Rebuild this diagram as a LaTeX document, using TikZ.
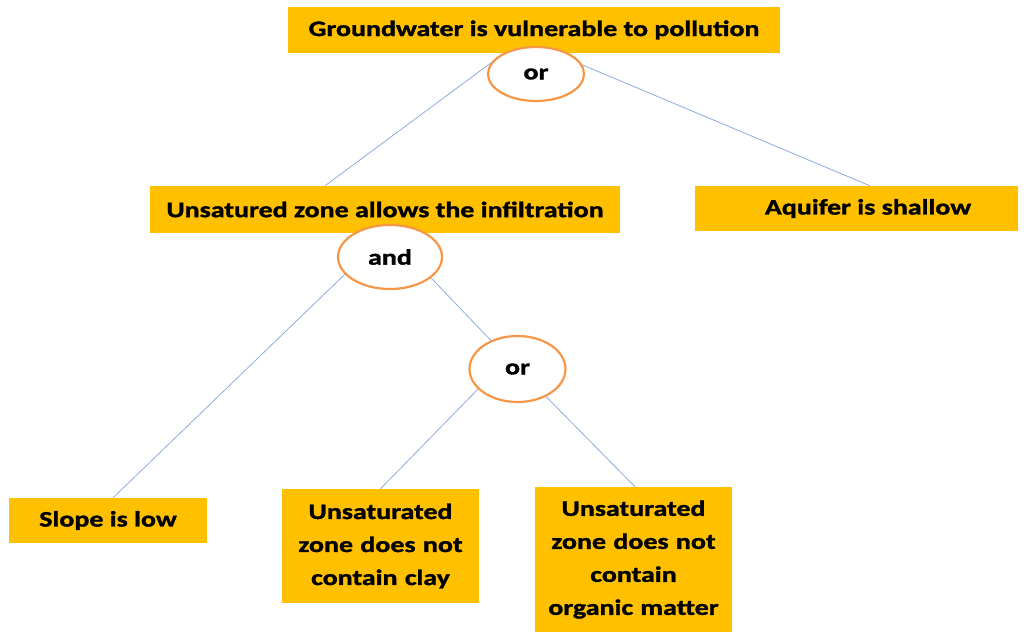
\documentclass[tikz,border=0pt]{standalone}
\usepackage{fontspec}
\setmainfont{Carlito}[FakeStretch=1.27,FakeBold=1.5]
\usetikzlibrary{shapes.geometric}
\definecolor{boxfill}{HTML}{FFC000}
\definecolor{gateline}{HTML}{F79646}
\definecolor{linkline}{HTML}{8FAADC}
\begin{document}
\begin{tikzpicture}[x=1pt,y=-1pt,
    fact/.style={fill=boxfill,inner sep=0pt,align=center,
      font=\fontsize{22}{33}\selectfont\bfseries},
    gate/.style={ellipse,draw=gateline,line width=2.2pt,fill=white,inner sep=0pt,
      font=\fontsize{22}{26}\selectfont\bfseries},
    link/.style={draw=linkline,line width=0.8pt}]
  \useasboundingbox (0,0) rectangle (1029,632);
  \node[fact,minimum width=492,minimum height=46] (pollution) at (534,30) {Groundwater is vulnerable to pollution};
  \node[fact,minimum width=470,minimum height=47] (infiltration) at (385,209.5) {Unsatured zone allows the infiltration};
  \node[fact,minimum width=323,minimum height=45] (shallow) at (856.5,208.5) {\hspace*{23pt}Aquifer is shallow};
  \node[fact,minimum width=198,minimum height=45] (slope) at (108,520.5) {Slope is low};
  \node[fact,text width=195,minimum width=197,minimum height=114] (clay) at (380.5,546) {Unsaturated\\zone does not\\contain clay};
  \node[fact,text width=195,minimum width=197,minimum height=145] (organic) at (633.5,559.5) {Unsaturated\\zone does not\\contain\\organic matter};
  \node[gate,minimum width=96,minimum height=54] (or1) at (536,74) {or};
  \node[gate,minimum width=104,minimum height=64] (and) at (390,257) {and};
  \node[gate,minimum width=96,minimum height=66] (or2) at (517.5,369) {or};
  \begin{scope}[link]
    \draw (or1.166) -- ([xshift=-60]infiltration.north);
    \draw (or1.11) -- ([xshift=13.5]shallow.north);
    \draw (and.201) -- ([xshift=5]slope.north);
    \draw (and.333) -- (or2.133);
    \draw (or2.207) -- (clay.north);
    \draw (or2.316) -- ([xshift=1.5]organic.north);
  \end{scope}
\end{tikzpicture}
\end{document}
